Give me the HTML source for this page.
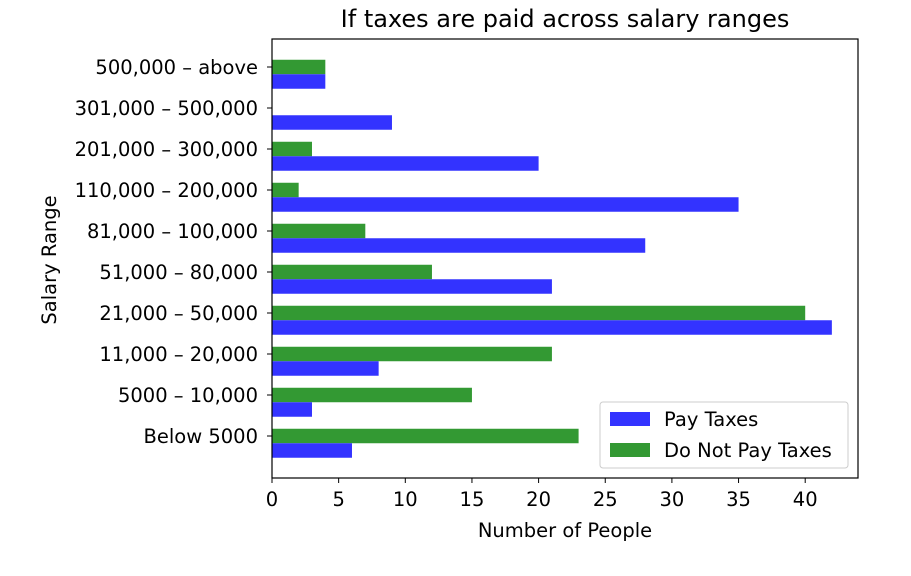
<!DOCTYPE html>
<html><head><meta charset="utf-8"><style>
body{margin:0;background:#fff;font-family:"DejaVu Sans","Liberation Sans",sans-serif}
svg text{font-family:"DejaVu Sans","Liberation Sans",sans-serif;fill:#000}
</style></head><body>
<svg id="chart" width="911" height="572" xmlns="http://www.w3.org/2000/svg">
<text x="565" y="27" font-size="24" text-anchor="middle">If taxes are paid across salary ranges</text>
<g id="bars"></g>
<g id="axes"></g>
<rect x="272" y="39" width="586" height="439" fill="none" stroke="#000" stroke-width="1.2"/>
<text x="565" y="537" font-size="19.5" text-anchor="middle">Number of People</text>
<text transform="translate(56,260) rotate(-90)" font-size="19.5" text-anchor="middle">Salary Range</text>
<g>
<rect x="600" y="402" width="248" height="66" rx="3" fill="#fff" stroke="#ccc"/>
<rect x="610" y="412" width="40" height="14" fill="#3333ff"/>
<text x="664" y="426" font-size="19.5">Pay Taxes</text>
<rect x="610" y="443" width="40" height="14" fill="#339933"/>
<text x="664" y="457" font-size="19.5">Do Not Pay Taxes</text>
</g>
</svg>
<script>
const categories=["Below 5000","5000 – 10,000","11,000 – 20,000","21,000 – 50,000","51,000 – 80,000","81,000 – 100,000","110,000 – 200,000","201,000 – 300,000","301,000 – 500,000","500,000 – above"];
const payTaxes=[6,3,8,42,21,28,35,20,9,4];
const notPayTaxes=[23,15,21,40,12,7,2,3,0,4];
const xTicks=[0,5,10,15,20,25,30,35,40];
const NS="http://www.w3.org/2000/svg";
const x0=272, xs=13.33;
function xPos(v){return x0+v*xs;}
function yPos(i){return 436-i*41;}
const bh=14.5;
const bars=document.getElementById('bars'), axes=document.getElementById('axes');
function mk(tag,attrs,parent){const e=document.createElementNS(NS,tag);for(const k in attrs)e.setAttribute(k,attrs[k]);parent.appendChild(e);return e;}
categories.forEach((c,i)=>{
  const y=yPos(i);
  const g=mk('rect',{x:x0,y:y-bh/2,width:notPayTaxes[i]*xs,height:bh,fill:'#339933'},bars);
  
  
  const b=mk('rect',{x:x0,y:y+bh/2,width:payTaxes[i]*xs,height:bh,fill:'#3333ff'},bars);
  
  
  mk('line',{x1:x0-5,x2:x0,y1:y,y2:y,stroke:'#000'},axes);
  const t=mk('text',{x:x0-14,y:y+7,'font-size':19.5,'text-anchor':'end'},axes);
  t.textContent=c;
  
  
});
xTicks.forEach(v=>{
  const x=xPos(v);
  mk('line',{x1:x,x2:x,y1:478,y2:483,stroke:'#000'},axes);
  const t=mk('text',{x:x,y:506,'font-size':19.5,'text-anchor':'middle'},axes);
  t.textContent=v;
  
  
});
</script>
</body></html>
